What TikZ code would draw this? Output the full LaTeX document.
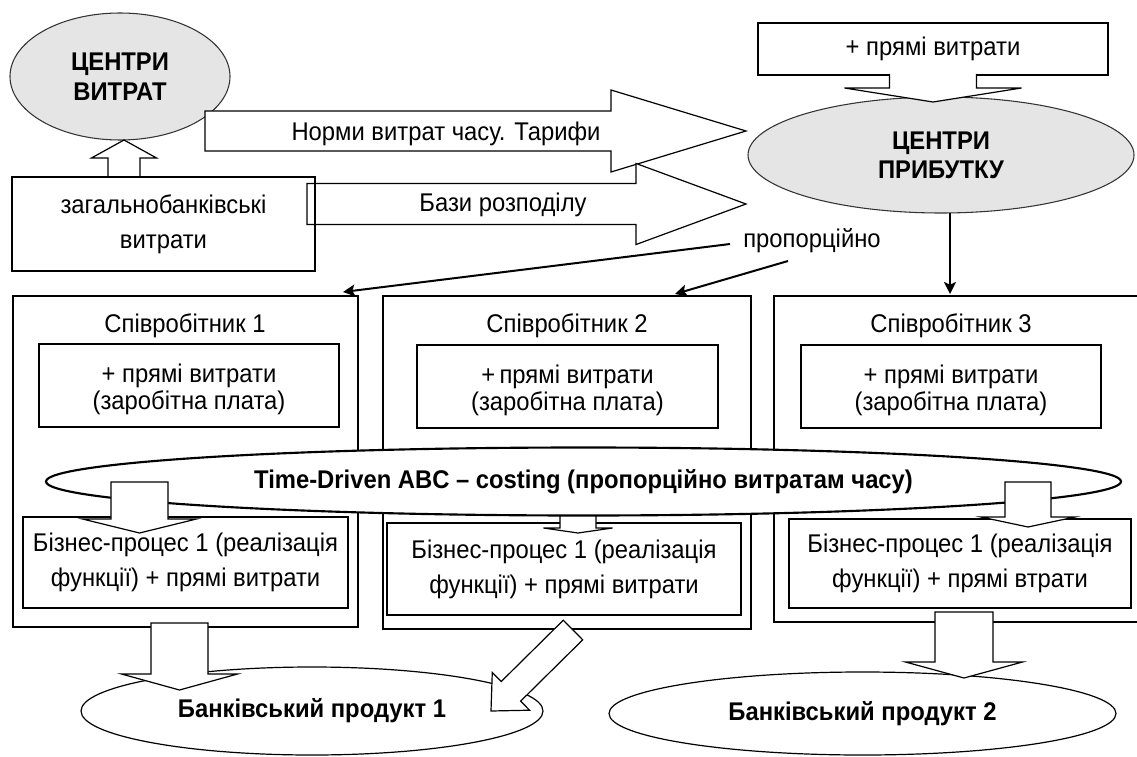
\documentclass[tikz,border=0pt]{standalone}
\usepackage{fontspec}
\setmainfont{Liberation Sans}[FakeStretch=0.93]
\usetikzlibrary{shapes.geometric,calc,arrows.meta}

\tikzset{
  every node/.style={inner sep=0pt, outer sep=0pt},
  boxline/.style={draw=black, line width=0.9pt},
  box/.style={boxline, fill=white, rectangle},
  lines/.style={align=center, font=\fontsize{19.2}{#1}\selectfont},
  blines/.style={align=center, font=\fontsize{19.2}{#1}\selectfont\bfseries},
  grayell/.style={ellipse, draw=black!80, line width=0.8pt, fill=black!10},
  whiteell/.style={ellipse, draw=black, line width=0.9pt, fill=white, blines=23pt},
  barrow/.style={draw=black, line width=0.9pt, fill=white, line join=miter},
  thinarrow/.style={line width=1.5pt, -{Stealth[length=9pt,width=9pt,inset=2pt]}},
}

% block arrow: id, from, to, shaft half width, head half width, head length, closing
\newcommand\blockarrow[7]{%
  \coordinate (#1-h) at ($(#3)!#6!(#2)$);
  \filldraw[barrow] ($(#2)!#4!90:(#3)$) -- ($(#1-h)!#4!90:(#3)$) -- ($(#1-h)!#5!90:(#3)$) -- (#3)
    -- ($(#1-h)!#5!-90:(#3)$) -- ($(#1-h)!#4!-90:(#3)$) -- ($(#2)!#4!-90:(#3)$) #7;
}

\begin{document}
\begin{tikzpicture}[x=0.75pt, y=-0.75pt, font=\fontsize{19.2}{23}\selectfont]
\useasboundingbox (0,0) rectangle (1137,756);
\fill[white] (0,0) rectangle (1137,756);
\clip (0,0) rectangle (1137,756);

% ---------- upper part ----------
\node[grayell, blines=22.5pt, minimum width=165pt, minimum height=95.25pt] (cv) at (120,76.5) {ЦЕНТРИ\\ВИТРАТ};
\node[box, lines=26.25pt, minimum width=227.25pt, minimum height=70.5pt] (zag) at (163.5,224)
  {загальнобанківські\\витрати};

\coordinate (upS) at (124,177);  \coordinate (upE) at (124,140);
\blockarrow{up}{upS}{upE}{12pt}{24.4pt}{13.5pt}{-- cycle}

\coordinate (nS) at (205,131);   \coordinate (nE) at (746,131);
\blockarrow{norm}{nS}{nE}{15pt}{30.75pt}{101.25pt}{-- cycle}
\node (tNorm) at (446,134) {Норми витрат часу. Тарифи};

\coordinate (bS) at (307,204);   \coordinate (bE) at (746,204);
\blockarrow{baz}{bS}{bE}{15.4pt}{30.4pt}{82.5pt}{-- cycle}
\node (tBazy) at (503,205) {Бази розподілу};
\draw[boxline] (zag.north west) rectangle (zag.south east);

\node[grayell, blines=21.75pt, minimum width=289.5pt, minimum height=87pt] (cp) at (941,155)
  {ЦЕНТРИ\\ПРИБУТКУ};
\node[box, minimum width=262.5pt, minimum height=39pt] (top) at (933,49) {+ прямі витрати};
\coordinate (dS) at (933,74);    \coordinate (dE) at (933,102);
\blockarrow{dn}{dS}{dE}{32.6pt}{66.4pt}{10.5pt}{}

% ---------- employees ----------
\node[box, anchor=north west, minimum width=258.75pt, minimum height=248.25pt] (emp1) at (13,296) {};
\node[box, anchor=north west, minimum width=276pt, minimum height=249.75pt] (emp2) at (383,296) {};
\node[box, anchor=north west, minimum width=282pt, minimum height=244.5pt] (emp3) at (774,296) {};

\node (sp1) at (185,326) {Співробітник 1};
\node (sp2) at (567,326) {Співробітник 2};
\node (sp3) at (951,326) {Співробітник 3};

\node[box, anchor=north west, minimum width=225pt, minimum height=62.25pt] (in1) at (39,344) {};
\node[box, anchor=north west, minimum width=225.75pt, minimum height=62.25pt] (in2) at (417,345) {};
\node[box, anchor=north west, minimum width=225pt, minimum height=62.25pt] (in3) at (801,345) {};
\node[lines=20.25pt] (it1) at (189,389) {+ прямі витрати\\(заробітна плата)};
\node[lines=20.25pt] (it2) at (567.5,390) {+\,прямі витрати\\(заробітна плата)};
\node[lines=20.25pt] (it3) at (951,390) {+ прямі витрати\\(заробітна плата)};

% proportional allocation
\node (prop) at (812,241) {пропорційно};
\coordinate (p1s) at (730,244);  \coordinate (p1e) at (343,292);
\coordinate (p2s) at (788,261);  \coordinate (p2e) at (675,294);
\coordinate (p3e) at (950,294);
\draw[thinarrow] (p1s) -- (p1e);
\draw[thinarrow] (p2s) -- (p2e);
\draw[thinarrow] (cp.south -| p3e) -- (p3e);

% ---------- business processes ----------
\node[box, lines=26.25pt, minimum width=243.75pt, minimum height=68.25pt] (bp1) at (185.5,562.5)
  {Бізнес-процес 1 (реалізація\\функції) + прямі витрати};
\node[box, lines=26.25pt, minimum width=265.5pt, minimum height=69pt] (bp2) at (564,569)
  {Бізнес-процес 1 (реалізація\\функції) + прямі витрати};
\node[box, lines=26.25pt, minimum width=256.5pt, minimum height=66.75pt] (bp3) at (960,563.5)
  {Бізнес-процес 1 (реалізація\\функції) + прямі втрати};

\node[ellipse, draw=black, line width=1.6pt, fill=white, blines=23pt,
  minimum width=806.25pt, minimum height=51pt] (tdabc) at (583.5,481.5)
  {Time-Driven ABC – costing (пропорційно витратам часу)};

\coordinate (t1S) at (139.5,482); \coordinate (t1E) at (139.5,533);
\blockarrow{ta}{t1S}{t1E}{21.4pt}{42.75pt}{10.5pt}{-- cycle}
\coordinate (t2S) at (578,516);   \coordinate (t2E) at (578,533);
\blockarrow{tb}{t2S}{t2E}{13.5pt}{25.9pt}{3.75pt}{-- cycle}
\coordinate (t3S) at (1028,482);  \coordinate (t3E) at (1028,527);
\blockarrow{tc}{t3S}{t3E}{17.25pt}{35.25pt}{7.5pt}{-- cycle}

% ---------- products ----------
\node[whiteell, minimum width=346.5pt, minimum height=66pt] (pr1) at (312,711) {Банківський продукт 1};
\node[whiteell, minimum width=380.25pt, minimum height=62.25pt] (pr2) at (862.5,713.5) {Банківський продукт 2};

\coordinate (q1S) at (179.5,623); \coordinate (q1E) at (179.5,690);
\blockarrow{qa}{q1S}{q1E}{21.4pt}{43.5pt}{12pt}{-- cycle}
\coordinate (q2S) at (573,630);   \coordinate (q2E) at (491,711);
\blockarrow{qb}{q2S}{q2E}{10.35pt}{19.9pt}{21pt}{-- cycle}
\coordinate (q3S) at (964,612);   \coordinate (q3E) at (964,678);
\blockarrow{qc}{q3S}{q3E}{21.75pt}{43.9pt}{12pt}{-- cycle}
\end{tikzpicture}
\end{document}
